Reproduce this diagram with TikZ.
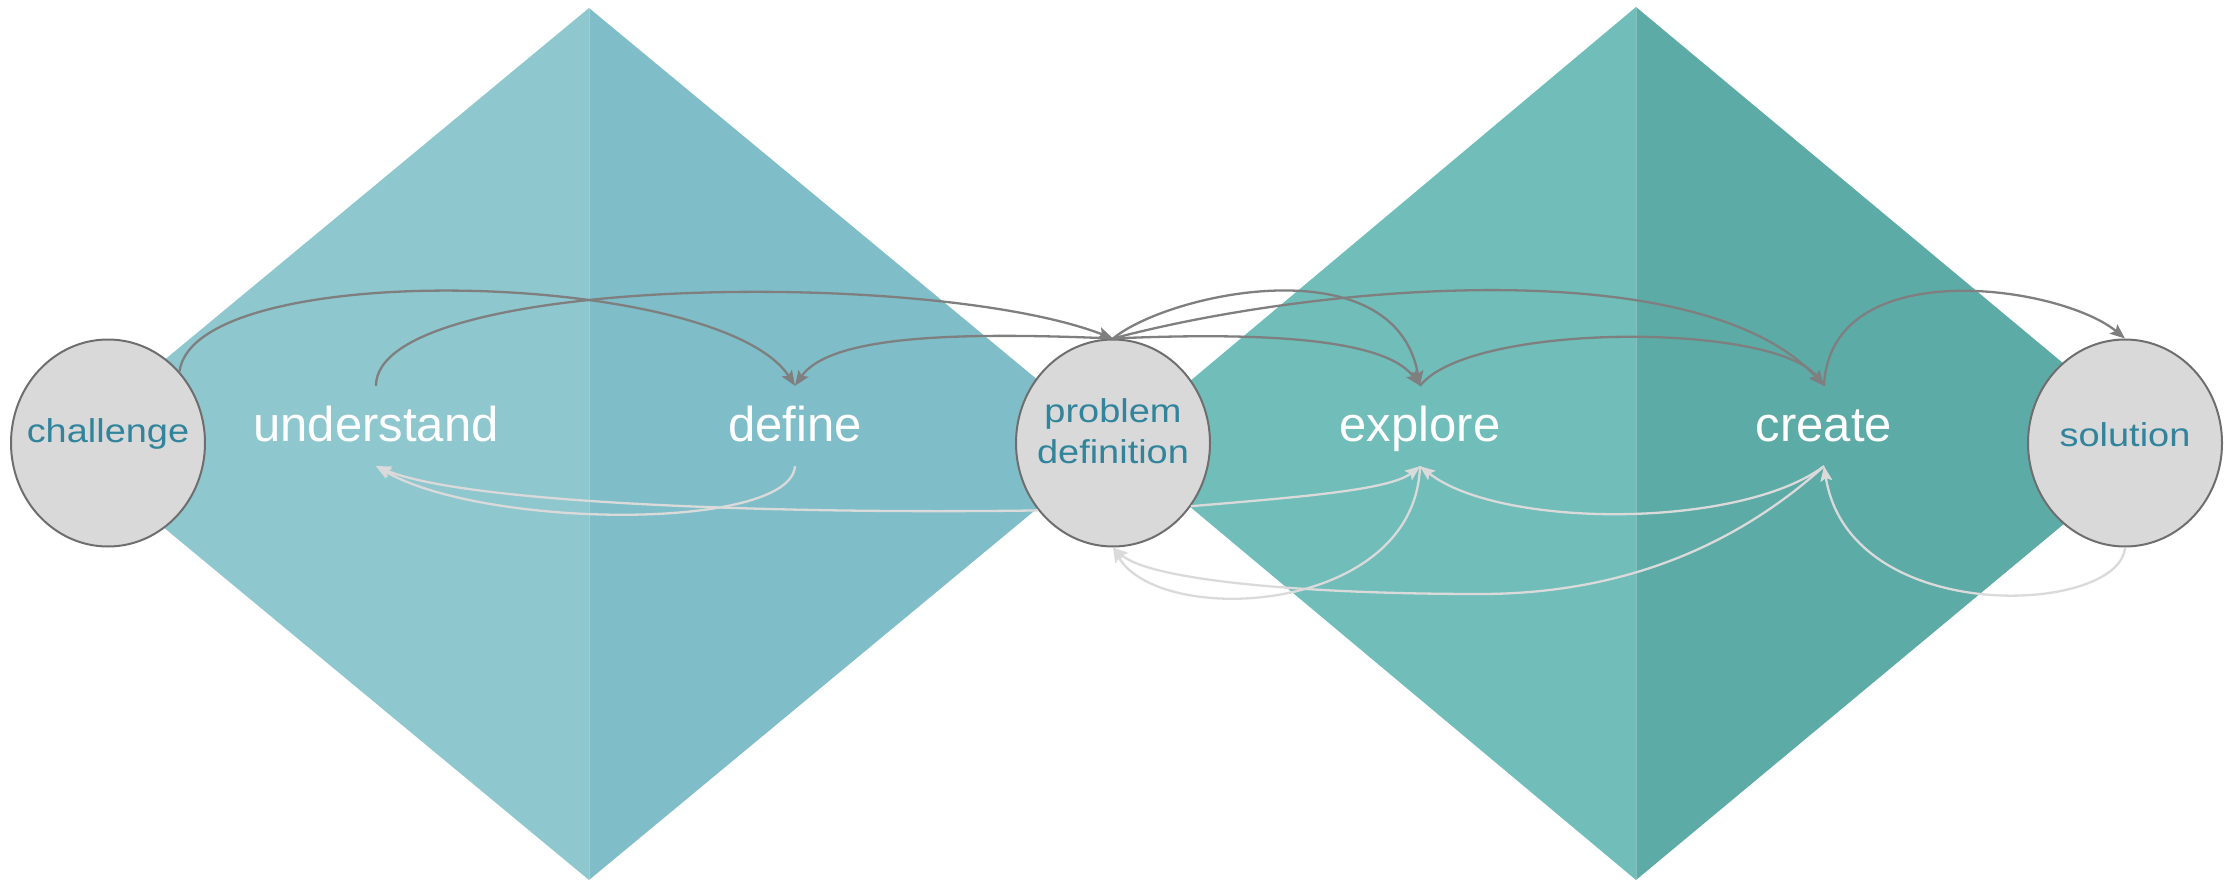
\documentclass[tikz,border=0pt]{standalone}
\usepackage{fontspec}
\setmainfont{Liberation Sans}
\newfontfamily\ellfont[FakeStretch=1.15]{Liberation Sans}
\usetikzlibrary{shapes.geometric,arrows.meta}
\definecolor{dA}{HTML}{8FC7CF}
\definecolor{dB}{HTML}{7FBEC8}
\definecolor{dC}{HTML}{70BDBA}
\definecolor{dD}{HTML}{5DABA7}
\definecolor{ellfill}{HTML}{D9D9D9}
\definecolor{ellline}{HTML}{6E6E6E}
\definecolor{tealtext}{HTML}{31849B}
\definecolor{dkline}{HTML}{7F7F7F}
\definecolor{ltline}{HTML}{DADADA}
\newcommand{\zw}[1]{\makebox[0pt]{#1}}
\tikzset{
  phase/.style={inner sep=0pt, minimum height=80pt, text height=40pt, text depth=10pt,
    text=white, font=\fontsize{49}{58}\selectfont},
  ell/.style={ellipse, draw=ellline, line width=2pt, fill=ellfill, inner sep=0pt,
    minimum width=194pt, minimum height=207pt, text=tealtext, align=center,
    font=\ellfont\fontsize{33}{40.6}\selectfont},
  dk/.style={draw=dkline, line width=2.3pt, -{Stealth[length=15pt,width=12pt,inset=3pt]}},
  lt/.style={draw=ltline, line width=2.3pt, -{Stealth[length=15pt,width=12pt,inset=3pt]}},
}
\begin{document}
\begin{tikzpicture}[x=1pt,y=-1pt]
\useasboundingbox (0,0) rectangle (2236,880);
% diamonds
\fill[dA] (589,8) -- (63,444) -- (589,880) -- cycle;
\fill[dB] (589,8) -- (1115,444) -- (589,880) -- cycle;
\fill[dC] (1636,7) -- (1115,444) -- (1636,880) -- cycle;
\fill[dD] (1636,7) -- (2160,444) -- (1636,880) -- cycle;
\draw[white, opacity=0.25, line width=1pt] (589,8) -- (589,880);
\draw[white, opacity=0.25, line width=1pt] (1636,7) -- (1636,880);
% nodes
\node[ell, text height=22pt, text depth=24pt] (ch) at (108,443) {\zw{challenge}};
\node[ell, text height=50.6pt, text depth=10pt] (pd) at (1113,443) {\zw{problem}\\\zw{definition}};
\node[ell, text height=26pt, text depth=20pt] (so) at (2125,443) {\zw{solution}};
\node[phase] (un) at (376,426) {understand};
\node[phase] (de) at (795,426) {define};
\node[phase] (ex) at (1420,426) {explore};
\node[phase] (cr) at (1824,426) {create};
% light (backward) connectors
\draw[lt] (de.south) .. controls (790,531) and (486,529) .. (un.south);
\draw[lt] (pd.222) .. controls (800,514) and (470,505) .. (un.south);
\draw[lt] (ex.south) .. controls (1415,615) and (1160,628) .. (pd.south);
\draw[lt] (cr.south) .. controls (1720,560) and (1600,594) .. (1480,594) .. controls (1300,594) and (1150,580) .. (pd.south);
\draw[lt] (pd.-39) .. controls (1300,497) and (1390,490) .. (ex.south);
\draw[lt] (cr.south) .. controls (1740,529) and (1500,529) .. (ex.south);
\draw[lt] (so.south) .. controls (2120,615) and (1850,628) .. (cr.south);
% dark (forward) connectors
\draw[dk] (ch.45) .. controls (195,256) and (720,270) .. (de.north);
\draw[dk] (un.north) .. controls (376,275) and (930,268) .. (pd.north);
\draw[dk] (pd.north) .. controls (960,332) and (830,335) .. (de.north);
\draw[dk] (pd.north) .. controls (1260,332) and (1385,338) .. (ex.north);
\draw[dk] (pd.north) .. controls (1170,292) and (1395,245) .. (ex.north);
\draw[dk] (pd.north) .. controls (1313,285) and (1700,250) .. (cr.north);
\draw[dk] (ex.north) .. controls (1470,322) and (1775,322) .. (cr.north);
\draw[dk] (cr.north) .. controls (1830,252) and (2060,285) .. (so.north);
\end{tikzpicture}
\end{document}
